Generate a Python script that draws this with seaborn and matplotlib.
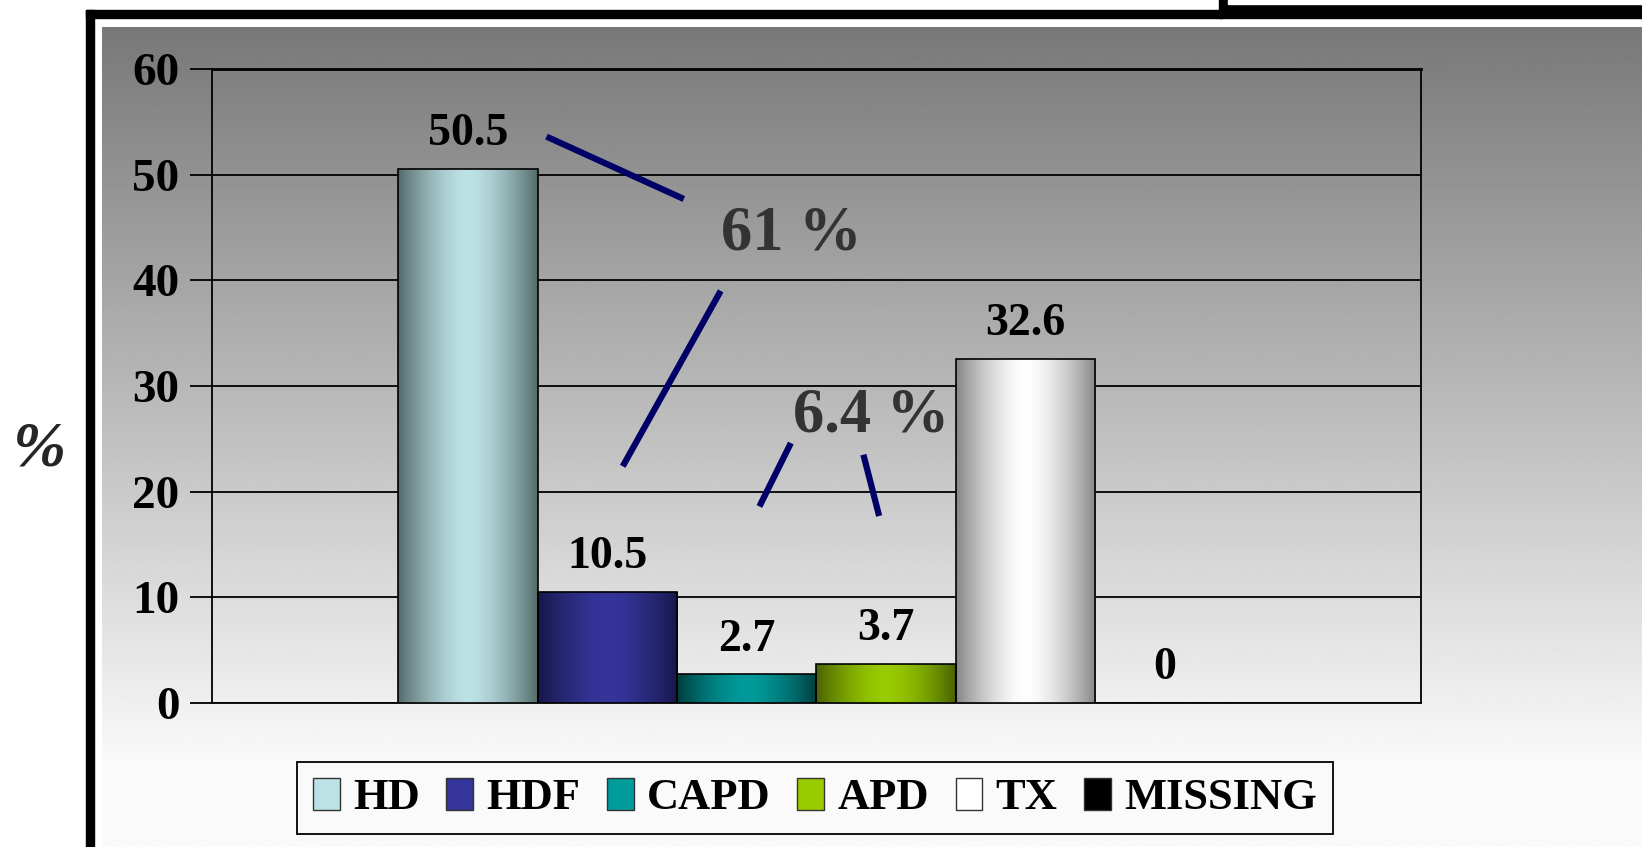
import matplotlib
matplotlib.use("Agg")
import matplotlib.pyplot as plt
import numpy as np
import pandas as pd
import seaborn as sns
from matplotlib.colors import to_rgb
from matplotlib.patches import Patch, Rectangle

# data
modality = ["HD", "HDF", "CAPD", "APD", "TX", "MISSING"]
percent = [50.5, 10.5, 2.7, 3.7, 32.6, 0]
light = ["#BDE2E5", "#35359B", "#009B9B", "#99CC00", "#FFFFFF", "#000000"]
dark = ["#536A6A", "#17174A", "#003E3E", "#4A6200", "#868686", "#000000"]

# callout lines (x, y in data units) and their labels
callouts = [
    ([-0.223, -0.1095], [53.6, 47.7]),
    ([-0.079, -0.160], [39.0, 22.4]),
    ([-0.021, -0.047], [24.6, 18.6]),
    ([0.039, 0.052], [23.5, 17.7]),
]
group_text = ["61 %", "6.4 %"]
group_pos = [(-0.021, 44.3), (0.045, 27.1)]

df = pd.DataFrame({"grp": [""] * len(modality), "mod": modality, "pct": percent})

sns.set_theme(style="white")
plt.rcParams["font.family"] = ["Liberation Serif", "DejaVu Serif"]
plt.rcParams["font.weight"] = "bold"

W, H = 1642, 847
fig = plt.figure(figsize=(W / 100, H / 100), dpi=100, facecolor="white")

# grey gradient panel behind everything
bg = fig.add_axes([102 / W, 0, 1 - 102 / W, 1 - 27 / H])
bg.set_axis_off()
yy = np.linspace(0, 1, 400)
shade = np.clip(120 + yy / 0.9 * 130, 120, 250) / 255.0
bg.imshow(np.repeat(shade[:, None], 2, axis=1), cmap="gray", vmin=0, vmax=1,
          aspect="auto", extent=[0, 1, 1, 0])

# frame pieces
fig.patches.append(Rectangle((86 / W, 0), 8 / W, 1 - 10 / H, transform=fig.transFigure, color="black"))
fig.patches.append(Rectangle((86 / W, 1 - 18 / H), (1222 - 86) / W, 8 / H, transform=fig.transFigure, color="black"))
fig.patches.append(Rectangle((1219 / W, 1 - 18 / H), (W - 1219) / W, 18 / H, transform=fig.transFigure, color="black"))
fig.patches.append(Rectangle((1228 / W, 1 - 4 / H), (W - 1228) / W, 4 / H, transform=fig.transFigure, color="white"))

ax = fig.add_axes([211.5 / W, 1 - 703 / H, (1421 - 211.5) / W, (703 - 69) / H])
ax.set_zorder(2)
ax.patch.set_alpha(0)

sns.barplot(data=df, x="grp", y="pct", hue="mod", hue_order=modality, width=0.691,
            dodge=True, gap=0, legend=False, ax=ax, saturation=1)

# gradient fills clipped to bars
t = np.linspace(0, 1, 256)
w = np.abs(2 * t - 1) ** 1.6
for i, cont in enumerate(ax.containers):
    lc, dc = np.array(to_rgb(light[i])), np.array(to_rgb(dark[i]))
    grad = lc[None, :] * (1 - w[:, None]) + dc[None, :] * w[:, None]
    for bar in cont:
        x0, wd, h = bar.get_x(), bar.get_width(), bar.get_height()
        bar.set_facecolor("none")
        bar.set_edgecolor("black")
        bar.set_linewidth(1.2)
        bar.set_zorder(4)
        if h > 0:
            im = ax.imshow(grad[None, :, :], aspect="auto", extent=[x0, x0 + wd, 0, h], zorder=3)
            im.set_clip_path(bar)
    ax.bar_label(cont, fmt="%g", padding=10, fontsize=33, fontweight="bold", color="black")

ax.set_xlim(-0.5, 0.5)
ax.set_ylim(0, 60)
ax.set_yticks(range(0, 61, 10))
ax.set_xticks([])
ax.set_xlabel("")
ax.set_ylabel("")
ax.yaxis.grid(True, color="black", linewidth=1.3)
ax.set_axisbelow(True)
for s in ["left", "right", "bottom"]:
    ax.spines[s].set_color("black")
    ax.spines[s].set_linewidth(1.3)
ax.spines["top"].set_color("black")
ax.spines["top"].set_linewidth(2)
ax.tick_params(axis="y", left=True, length=16, width=1.3, color="black", pad=7,
               labelsize=34, labelcolor="black")
for lab in ax.get_yticklabels():
    lab.set_fontweight("bold")

for xs, ys in callouts:
    ax.plot(xs, ys, color="#000066", linewidth=4.5, solid_capstyle="butt", zorder=5)
for txt, (x, y) in zip(group_text, group_pos):
    ax.text(x, y, txt, ha="center", va="center", fontsize=45, fontweight="bold",
            color="#333333", zorder=6)

fig.text(39 / W, 1 - 450 / H, "%", ha="center", va="center", fontsize=46,
         fontstyle="italic", fontweight="bold")

handles = [Patch(facecolor=light[i], edgecolor="#333333", linewidth=1)
           for i in range(len(modality))]
leg = fig.legend(handles, modality, loc="center", bbox_to_anchor=(815 / W, 1 - 798 / H),
                 ncol=6, fontsize=32, frameon=True, fancybox=False, framealpha=1,
                 facecolor="#FAFAFA", edgecolor="black", handlelength=0.6,
                 handleheight=0.75, handletextpad=0.3, columnspacing=0.6,
                 borderpad=0.35, borderaxespad=0)
leg.get_frame().set_linewidth(1.3)
for txt in leg.get_texts():
    txt.set_fontweight("bold")
    txt.set_color("black")

fig.savefig("out.png", dpi=100)
